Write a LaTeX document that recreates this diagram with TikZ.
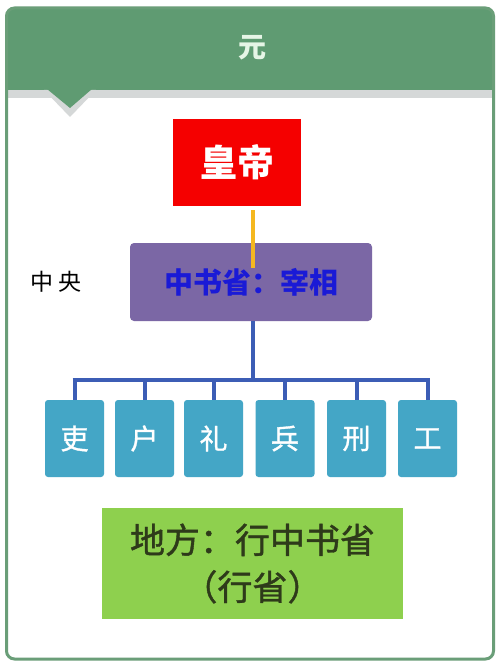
\documentclass[tikz,border=0pt]{standalone}
\usepackage{fontspec}
\newfontfamily\cjk{Noto Sans CJK SC}
\newfontfamily\cjkm[FakeBold=1.2]{Noto Sans CJK SC}
\usetikzlibrary{calc}
\definecolor{hdr}{HTML}{5F9B72}
\definecolor{frm}{HTML}{6A9E78}
\definecolor{ttl}{HTML}{E6F5E6}
\definecolor{emp}{HTML}{F50000}
\definecolor{purp}{HTML}{7B67A5}
\definecolor{bltx}{HTML}{1A1AD6}
\definecolor{teal}{HTML}{44A6C6}
\definecolor{lgrn}{HTML}{8ED04E}
\definecolor{ltxt}{HTML}{2E3A1A}
\definecolor{lnblue}{HTML}{3C5DB5}
\definecolor{ylw}{HTML}{F5B820}
\definecolor{shd}{HTML}{D5D8D8}
\begin{document}
\begin{tikzpicture}[x=1pt,y=-1pt,
  every node/.style={font=\cjk, inner sep=0pt},
  bu/.style={fill=teal, rounded corners=3pt, minimum width=59pt, minimum height=77pt, text=white, font=\cjkm\fontsize{28}{30}\selectfont},
  conn/.style={line width=4pt, draw=lnblue}]
\useasboundingbox[fill=white] (0,0) rectangle (500,663);
% header
\fill[hdr, rounded corners=8pt] (6,8) rectangle (494,100);
\fill[white] (6,90) rectangle (494,100);
\fill[shd] (6,90) rectangle (494,98);
\fill[shd] (44,90) -- (96,90) -- (70,117) -- cycle;
\fill[hdr] (47,89) -- (92,89) -- (70,108) -- cycle;
\draw[frm, line width=3pt, rounded corners=8pt] (6.5,8) rectangle (493.5,659);
\node[text=ttl, font=\cjk\bfseries\fontsize{28}{30}\selectfont] (title) at (252,48) {元};
% nodes
\node[fill=emp, minimum width=128pt, minimum height=87pt, text=white, font=\cjk\bfseries\fontsize{37}{40}\selectfont] (emp) at (237,162.5) {皇帝};
\node[fill=purp, rounded corners=4pt, minimum width=242pt, minimum height=78pt, text=bltx, font=\cjk\bfseries\fontsize{29}{31}\selectfont] (zsx) at (251,282) {中书省：宰相};
\node[font=\cjk\fontsize{23}{25}\selectfont] (zy) at (56,282) {中\hspace{5pt}央};
\node[bu] (b1) at (74.5,438.5) {吏};
\node[bu] (b2) at (144.5,438.5) {户};
\node[bu] (b3) at (213.5,438.5) {礼};
\node[bu] (b4) at (285,438.5) {兵};
\node[bu] (b5) at (356.5,438.5) {刑};
\node[bu] (b6) at (427.5,438.5) {工};
\node[fill=lgrn, minimum width=301pt, minimum height=111pt, text=ltxt, align=center, font=\cjkm\fontsize{35}{47}\selectfont] (loc) at (252.5,563.5) {地方：行中书省\\（行省）};
% connectors
\coordinate (bar) at (253,380);
\draw[ylw, line width=3.5pt] ([yshift=-4pt]emp.south -| bar) -- ([yshift=14pt]zsx.center -| bar);
\draw[conn] (zsx.south -| bar) -- (bar);
\draw[conn] ([xshift=-2pt]b1.north |- bar) -- ([xshift=2pt]b6.north |- bar);
\foreach \b in {b1,b2,b3,b4,b5,b6}{
  \draw[conn] (\b.north |- bar) -- (\b.north);
}
\end{tikzpicture}
\end{document}
